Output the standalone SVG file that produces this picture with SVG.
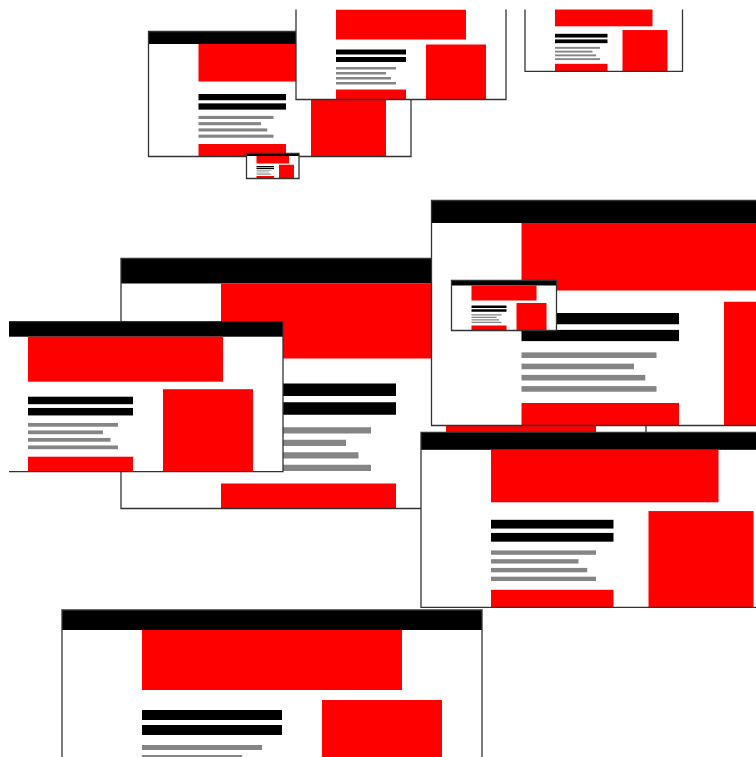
<svg xmlns="http://www.w3.org/2000/svg" xmlns:xlink="http://www.w3.org/1999/xlink" width="756" height="757" viewBox="0 0 756 757">
  <style>
    .bg { fill: #ffffff; }
    .k { fill: #000000; }
    .r { fill: #ff0000; }
    .g { fill: #858585; }
    .edge { fill: none; stroke: #333333; stroke-width: 1.3; vector-effect: non-scaling-stroke; }
  </style>
  <defs>
    <!-- one page mock-up at 420 x 200 units -->
    <g id="page">
      <rect class="bg" width="420" height="200"/>
      <rect class="k" width="420" height="20"/>
      <rect class="r" x="80" y="20" width="260" height="60"/>
      <rect class="r" x="260" y="90" width="120" height="110"/>
      <rect class="k" x="80" y="100" width="140" height="10"/>
      <rect class="k" x="80" y="115" width="140" height="10"/>
      <rect class="g" x="80" y="135" width="120" height="5"/>
      <rect class="g" x="80" y="145" width="100" height="5"/>
      <rect class="g" x="80" y="155" width="110" height="5"/>
      <rect class="g" x="80" y="165" width="120" height="5"/>
      <rect class="r" x="80" y="180" width="140" height="20"/>
      <rect class="edge" width="420" height="200"/>
    </g>
    <clipPath id="view">
      <rect x="9" y="9.5" width="760" height="760"/>
    </clipPath>
  </defs>

  <g clip-path="url(#view)">
    <g id="page-top-left"><use xlink:href="#page" transform="translate(148.5,31.5) scale(0.625)"/></g>
    <g id="page-top-mid"><use xlink:href="#page" transform="translate(296,-0.5) scale(0.5)"/></g>
    <g id="page-tiny"><use xlink:href="#page" transform="translate(246.5,153.5) scale(0.125)"/></g>
    <g id="page-top-right"><use xlink:href="#page" transform="translate(525,-3.7) scale(0.375)"/></g>
    <g id="page-center"><use xlink:href="#page" transform="translate(121,258.5) scale(1.25)"/></g>
    <g id="page-left"><use xlink:href="#page" transform="translate(-32,321.7) scale(0.75)"/></g>
    <g id="page-right-upper"><use xlink:href="#page" transform="translate(431.5,200.5) scale(1.125)"/></g>
    <g id="page-small"><use xlink:href="#page" transform="translate(451.5,280.5) scale(0.25)"/></g>
    <g id="page-right-lower"><use xlink:href="#page" transform="translate(421,432.3) scale(0.875)"/></g>
    <g id="page-bottom"><use xlink:href="#page" transform="translate(62,610) scale(1)"/></g>
  </g>
</svg>
